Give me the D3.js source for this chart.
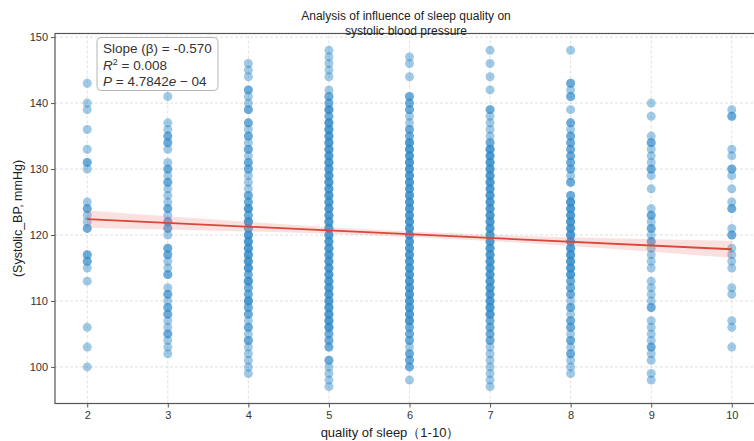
<!DOCTYPE html>
<html>
<head>
<meta charset="utf-8">
<script src="https://cdn.jsdelivr.net/npm/d3@7/dist/d3.min.js"></script>
<style>
  body { margin: 0; background: #fff; }
  svg text { font-family: "Liberation Sans", Arial, sans-serif; fill: #333; }
  .grid line { stroke: #d8d8d8; stroke-width: 0.8; stroke-dasharray: 3,2; }
  .axis path { display: none; }
  .axis line { stroke: #555; }
  .axis text { font-size: 11px; fill: #333; }
</style>
</head>
<body>
<div id="chart"></div>
<script>
"use strict";

// systolic BP readings (mmHg) for each sleep-quality score
var sbp2 = [143, 140, 139, 136, 133, 131, 131, 130, 125, 124, 124, 123, 122, 121, 121,
    117, 117, 116, 116, 115, 113, 106, 103, 100];
var sbp3 = [141, 137, 136, 135, 135, 134, 134, 133, 131, 130, 130, 129, 128, 128, 127, 126,
    125, 124, 124, 123, 122, 122, 121, 121, 120, 118, 118, 117, 117, 116, 115, 114, 114,
    112, 111, 111, 110, 109, 109, 108, 108, 107, 106, 105, 105, 104, 103, 102];
var sbp4 = [146, 145, 144, 142, 142, 141, 140, 139, 139, 137, 137, 136, 135, 135, 134,
    133, 133, 132, 131, 131, 130, 130, 129, 128, 127, 126, 126, 125, 125, 124, 124, 124,
    123, 123, 122, 122, 122, 121, 121, 120, 120, 120, 119, 119, 119, 118, 118, 118, 117,
    117, 117, 116, 116, 116, 115, 115, 115, 114, 114, 113, 113, 113, 112, 112, 111, 111,
    110, 110, 110, 109, 109, 108, 108, 107, 106, 106, 105, 104, 104, 103, 102, 101, 100, 99];
var sbp5 = [148, 147, 146, 145, 144, 142, 141, 141, 140, 140, 139, 139, 139, 138, 138,
    137, 137, 137, 136, 136, 136, 135, 135, 135, 134, 134, 134, 133, 133, 133, 132, 132,
    132, 131, 131, 131, 130, 130, 130, 129, 129, 129, 128, 128, 128, 127, 127, 127, 126,
    126, 126, 125, 125, 125, 124, 124, 124, 123, 123, 123, 122, 122, 122, 121, 121, 121,
    120, 120, 120, 119, 119, 119, 118, 118, 118, 117, 117, 117, 116, 116, 116, 115, 115,
    115, 114, 114, 114, 113, 113, 113, 112, 112, 112, 111, 111, 111, 110, 110, 110, 109,
    109, 109, 108, 108, 108, 107, 107, 107, 106, 106, 106, 105, 105, 104, 104, 103, 103,
    101, 101, 100, 99, 98, 97];
var sbp6 = [147, 146, 144, 141, 141, 140, 140, 139, 139, 138, 137, 136, 136, 135, 135,
    134, 134, 134, 133, 133, 133, 132, 132, 132, 131, 131, 131, 130, 130, 130, 129, 129,
    129, 128, 128, 128, 127, 127, 127, 126, 126, 126, 125, 125, 125, 124, 124, 124, 123,
    123, 123, 122, 122, 122, 121, 121, 121, 120, 120, 120, 119, 119, 119, 118, 118, 118,
    117, 117, 117, 116, 116, 116, 115, 115, 115, 114, 114, 114, 113, 113, 113, 112, 112,
    112, 111, 111, 111, 110, 110, 110, 109, 109, 109, 108, 108, 108, 107, 107, 107, 106,
    106, 105, 105, 104, 104, 103, 102, 102, 101, 101, 100, 100, 98];
var sbp7 = [148, 146, 144, 142, 139, 139, 138, 137, 136, 135, 134, 134, 133, 133, 133,
    132, 132, 132, 131, 131, 131, 130, 130, 130, 129, 129, 129, 128, 128, 128, 127, 127,
    127, 126, 126, 126, 125, 125, 125, 124, 124, 124, 123, 123, 123, 122, 122, 122, 121,
    121, 121, 120, 120, 120, 119, 119, 119, 118, 118, 118, 117, 117, 117, 116, 116, 116,
    115, 115, 115, 114, 114, 114, 113, 113, 113, 112, 112, 112, 111, 111, 111, 110, 110,
    110, 109, 109, 109, 108, 108, 108, 107, 107, 106, 106, 105, 105, 104, 104, 103, 102,
    101, 100, 99, 98, 97];
var sbp8 = [148, 143, 143, 142, 141, 141, 139, 137, 137, 136, 135, 135, 134, 134, 133,
    133, 132, 132, 131, 131, 130, 130, 129, 128, 128, 126, 126, 125, 125, 125, 124, 124,
    124, 123, 123, 123, 122, 122, 122, 121, 121, 121, 120, 120, 120, 119, 119, 119, 118,
    118, 118, 117, 117, 117, 116, 116, 116, 115, 115, 115, 114, 114, 114, 113, 113, 112,
    112, 111, 111, 110, 109, 109, 108, 107, 107, 106, 106, 105, 104, 104, 103, 102, 102,
    101, 100, 99];
var sbp9 = [140, 138, 135, 134, 134, 133, 132, 131, 130, 130, 129, 127, 124, 123, 123,
    122, 121, 121, 120, 119, 119, 118, 117, 116, 115, 113, 112, 111, 110, 109, 109, 107,
    106, 105, 104, 103, 103, 102, 101, 99, 98];
var sbp10 = [139, 138, 138, 133, 132, 130, 130, 129, 127, 125, 124, 124, 121, 120, 120,
    118, 117, 116, 115, 112, 111, 107, 106, 103];

var sleepScores = [2, 3, 4, 5, 6, 7, 8, 9, 10];
var sbpColumns = [sbp2, sbp3, sbp4, sbp5, sbp6, sbp7, sbp8, sbp9, sbp10];

var xTicks = [2, 3, 4, 5, 6, 7, 8, 9, 10];
var yTicks = [100, 110, 120, 130, 140, 150];

// fitted line and its confidence half-width
var fitSlope = -0.570;
var fitIntercept = 123.54;
var ciScores = [2, 3, 4, 5, 6, 7, 8, 9, 10];
var ciHalfWidth = [1.3, 1.0, 0.72, 0.5, 0.42, 0.46, 0.66, 0.95, 1.3];

var statLines = ["Slope (\u03b2) = -0.570", "0.008", "4.7842"];

var width = 754, height = 441;
var margin = { left: 55, top: 33.5, bottom: 37.5 };
var plotRight = 764;

var svg = d3.select("#chart").append("svg")
    .attr("width", width)
    .attr("height", height);

var xScale = d3.scaleLinear()
    .domain([1.6, 10.4])
    .range([margin.left, plotRight]);

var yScale = d3.scaleLinear()
    .domain([94.45, 150.55])
    .range([height - margin.bottom, margin.top]);

// grid
var grid = svg.append("g").attr("class", "grid");
grid.selectAll(".gx").data(xTicks).enter().append("line")
    .attr("x1", function(d){ return xScale(d); })
    .attr("x2", function(d){ return xScale(d); })
    .attr("y1", yScale.range()[0])
    .attr("y2", yScale.range()[1]);
grid.selectAll(".gy").data(yTicks).enter().append("line")
    .attr("x1", margin.left)
    .attr("x2", plotRight)
    .attr("y1", function(d){ return yScale(d); })
    .attr("y2", function(d){ return yScale(d); });

// points
var points = [];
sleepScores.forEach(function(s, i){
    sbpColumns[i].forEach(function(v){ points.push({ x: s, y: v }); });
});

svg.append("g").selectAll("circle")
    .data(points)
    .enter()
    .append("circle")
    .attr("cx", function(d){ return xScale(d.x); })
    .attr("cy", function(d){ return yScale(d.y); })
    .attr("r", 4.5)
    .style("fill", "#2d87c8")
    .style("fill-opacity", 0.45);

// confidence band + regression line
var band = ciScores.map(function(s, i){
    var m = fitIntercept + fitSlope * s;
    return { x: s, lo: m - ciHalfWidth[i], hi: m + ciHalfWidth[i] };
});

svg.append("path")
    .datum(band)
    .attr("d", d3.area()
        .curve(d3.curveMonotoneX)
        .x(function(d){ return xScale(d.x); })
        .y0(function(d){ return yScale(d.lo); })
        .y1(function(d){ return yScale(d.hi); }))
    .style("fill", "#e8736b")
    .style("fill-opacity", 0.22);

var xMin = d3.min(sleepScores), xMax = d3.max(sleepScores);
svg.append("line")
    .attr("x1", xScale(xMin))
    .attr("y1", yScale(fitIntercept + fitSlope * xMin))
    .attr("x2", xScale(xMax))
    .attr("y2", yScale(fitIntercept + fitSlope * xMax))
    .style("stroke", "#d9463a")
    .style("stroke-width", 1.8);

// axes
var xAxis = d3.axisBottom(xScale).tickValues(xTicks).tickSize(4).tickPadding(4)
    .tickFormat(d3.format("d"));
svg.append("g")
    .attr("class", "x axis")
    .attr("transform", "translate(0," + yScale.range()[0] + ")")
    .call(xAxis);

var yAxis = d3.axisLeft(yScale).tickValues(yTicks).tickSize(4).tickPadding(3)
    .tickFormat(d3.format("d"));
svg.append("g")
    .attr("class", "y axis")
    .attr("transform", "translate(" + margin.left + ",0)")
    .call(yAxis);

// frame (spines)
svg.append("rect")
    .attr("x", margin.left)
    .attr("y", margin.top)
    .attr("width", plotRight - margin.left)
    .attr("height", yScale.range()[0] - margin.top)
    .style("fill", "none")
    .style("stroke", "#555")
    .style("stroke-width", 1.2);

// title
var title = svg.append("text")
    .attr("text-anchor", "middle")
    .style("font-size", "12px")
    .style("fill", "#222");
title.append("tspan").attr("x", 406).attr("y", 20).text("Analysis of influence of sleep quality on");
title.append("tspan").attr("x", 406).attr("y", 35).text("systolic blood pressure");

// axis labels
svg.append("text")
    .attr("text-anchor", "middle")
    .attr("x", 390)
    .attr("y", 437)
    .style("font-size", "13px")
    .style("fill", "#222")
    .text("quality of sleep（1-10）");

svg.append("text")
    .attr("text-anchor", "middle")
    .attr("transform", "translate(22," + ((margin.top + yScale.range()[0]) / 2) + ") rotate(-90)")
    .style("font-size", "12.5px")
    .style("fill", "#222")
    .text("(Systolic_BP, mmHg)");

// stats box
svg.append("rect")
    .attr("x", 97)
    .attr("y", 37.5)
    .attr("width", 121)
    .attr("height", 53)
    .attr("rx", 4)
    .style("fill", "#fff")
    .style("fill-opacity", 0.85)
    .style("stroke", "#b5b5b5")
    .style("stroke-width", 1);

var statText = svg.append("g").style("font-size", "13.5px").style("fill", "#222");
statText.append("text").attr("x", 103).attr("y", 53).text(statLines[0]);

var r2 = statText.append("text").attr("x", 103).attr("y", 69.5);
r2.append("tspan").style("font-style", "italic").text("R");
r2.append("tspan").attr("dy", -5).style("font-size", "9px").text("2");
r2.append("tspan").attr("dy", 5).text(" = " + statLines[1]);

var pv = statText.append("text").attr("x", 103).attr("y", 86);
pv.append("tspan").style("font-style", "italic").text("P");
pv.append("tspan").text(" = " + statLines[2]);
pv.append("tspan").style("font-style", "italic").text("e");
pv.append("tspan").text(" \u2212 04");
</script>
</body>
</html>
